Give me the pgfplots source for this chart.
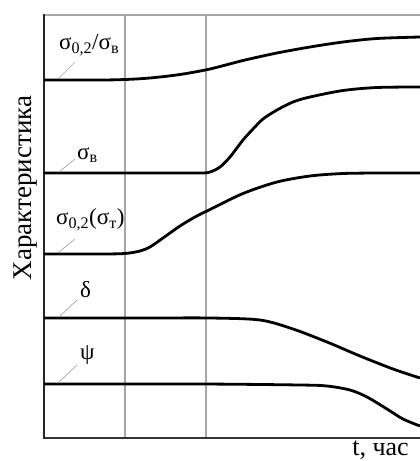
\documentclass[border=0pt]{standalone}
\usepackage{fontspec}
\setmainfont{Liberation Serif}
\usepackage{pgfplots}
\pgfplotsset{compat=1.18}
\begin{document}
\begin{tikzpicture}[x=1pt,y=1pt]
\path[use as bounding box] (-44,-23) rectangle (376,438);
\begin{axis}[
  at={(0,0)}, anchor=south west,
  scale only axis, width=376pt, height=423pt,
  xmin=44, xmax=420, ymin=15, ymax=438, y dir=reverse,
  axis line style={draw=none},
  ticks=none, clip=false,
]
% frame
\draw[gray!70, line width=1.2pt] (axis cs:44,15) -- (axis cs:420,15);
\draw[gray!70, line width=1.2pt] (axis cs:125,15) -- (axis cs:125,438);
\draw[gray!70, line width=1.2pt] (axis cs:206,15) -- (axis cs:206,438);
\draw[black!80, line width=1.8pt] (axis cs:44,438) -- (axis cs:420,438);
\draw[black!85, line width=2pt] (axis cs:44,14) -- (axis cs:44,439);
% curves
\addplot[black, line width=2.8pt, smooth, tension=0.5] coordinates {
(44,80) (100,80) (125,79.5) (150,78) (180,74.5) (210,69) (243,60.5) (277,53) (310,47) (343,42) (377,38.5) (420,37)};
\addplot[black, line width=2.8pt, smooth, tension=0.5] coordinates {
(44,173) (150,173) (200,173) (210,172) (220,167) (230,157) (243,140) (253,129) (263,119) (277,110) (293,102) (310,97) (343,90.5) (377,87.5) (420,87)};
\addplot[black, line width=2.8pt, smooth, tension=0.5] coordinates {
(44,254) (100,254) (125,253.5) (140,251) (150,247) (163,238) (180,226) (195,217) (210,209.5) (243,193.5) (277,182) (310,176) (343,173.5) (380,173) (420,173)};
\addplot[black, line width=2.8pt, smooth, tension=0.5] coordinates {
(44,318) (150,318) (210,318) (260,320) (293,329) (327,342) (360,356) (393,369) (420,378)};
\addplot[black, line width=2.8pt, smooth, tension=0.5] coordinates {
(44,384) (200,384) (300,385) (327,386) (350,390) (367,397) (387,409) (403,419) (420,426)};
% leader lines
\draw[gray!70, line width=0.7pt] (axis cs:58,79) -- (axis cs:75,62);
\draw[gray!70, line width=0.7pt] (axis cs:59,172) -- (axis cs:75,159);
\draw[gray!70, line width=0.7pt] (axis cs:59,252) -- (axis cs:75,239);
\draw[gray!70, line width=0.7pt] (axis cs:59,317) -- (axis cs:77,300);
\draw[gray!70, line width=0.7pt] (axis cs:58,383) -- (axis cs:77,365);
% labels
\node[anchor=west, inner sep=0pt] at (axis cs:59,45) {\fontsize{23}{27}\selectfont σ\textsubscript{0,2}/σ\textsubscript{в}};
\node[anchor=west, inner sep=0pt] at (axis cs:77,155) {\fontsize{23}{27}\selectfont σ\textsubscript{в}};
\node[anchor=west, inner sep=0pt] at (axis cs:56,220) {\fontsize{23}{27}\selectfont σ\textsubscript{0,2}(σ\textsubscript{т})};
\node[anchor=west, inner sep=0pt] at (axis cs:80,290) {\fontsize{23}{27}\selectfont δ};
\node[anchor=west, inner sep=0pt] at (axis cs:80,355) {\fontsize{23}{27}\selectfont ψ};
\node[rotate=90, anchor=base, inner sep=0pt] at (axis cs:32,188) {\fontsize{27}{32}\selectfont Характеристика};
\node[anchor=base east, inner sep=0pt] at (axis cs:409,455) {\fontsize{26}{30}\selectfont t, час};
\end{axis}
\end{tikzpicture}
\end{document}
